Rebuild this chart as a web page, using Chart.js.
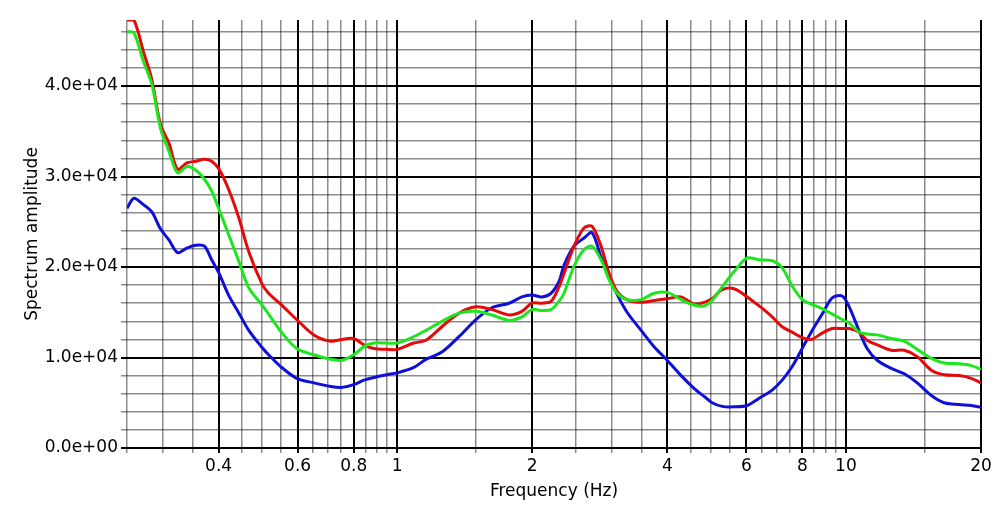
<!DOCTYPE html>
<html>
<head>
<meta charset="utf-8">
<script src="https://cdn.jsdelivr.net/npm/chart.js@4.4.1/dist/chart.umd.min.js"></script>
<style>
  body { margin: 0; background: #fff; }
</style>
</head>
<body>
<canvas id="spectrumChart" width="1002" height="521"></canvas>
<script>
// frequencies (Hz), shared by the three curves
var freqs = [0.25, 0.259, 0.272, 0.284, 0.297, 0.31, 0.324, 0.34, 0.356, 0.372, 0.386, 0.4, 0.421, 0.444, 0.467, 0.5, 0.517, 0.55, 0.597, 0.652,
    0.711, 0.753, 0.8, 0.843, 0.887, 0.949, 1.0, 1.089, 1.159, 1.258, 1.373, 1.498, 1.626, 1.775, 1.897, 1.997, 2.102, 2.202, 2.294, 2.354,
    2.478, 2.608, 2.718, 2.847, 2.966, 3.09, 3.253, 3.496, 3.737, 3.996, 4.293, 4.587, 4.831, 5.033, 5.3, 5.634, 6.025, 6.408, 6.848, 7.21,
    7.59, 7.99, 8.368, 8.855, 9.32, 9.811, 10.17, 10.71, 11.15, 11.74, 12.62, 13.49, 14.42, 15.5, 16.56, 17.89, 19.03, 20];

var redAmp = [47300, 47300, 43800, 40700, 35700, 33700, 30800, 31500, 31700, 31900, 31700, 30900, 28600, 25400, 21700, 18100, 17100, 15900, 14200, 12500,
    11800, 12000, 12100, 11400, 11000, 10900, 10900, 11600, 11900, 13400, 14900, 15600, 15300, 14700, 15100, 16000, 16000, 16200, 17800, 19300,
    22300, 24300, 24500, 22300, 19300, 17300, 16400, 16100, 16300, 16500, 16700, 15900, 16100, 16500, 17500, 17600, 16700, 15700, 14500, 13400,
    12800, 12200, 12000, 12700, 13200, 13200, 13200, 12800, 11900, 11400, 10800, 10800, 10100, 8600, 8100, 8000, 7700, 7200];

var greenAmp = [46000, 45900, 42700, 40200, 35300, 32800, 30400, 31100, 30700, 29700, 28400, 26500, 23600, 20600, 17700, 15800, 14800, 12900, 11000, 10300,
    9800, 9700, 10300, 11200, 11600, 11600, 11600, 12300, 13000, 14000, 14900, 15100, 14700, 14100, 14500, 15300, 15200, 15300, 16200, 17100,
    20100, 21900, 22300, 20800, 18600, 17100, 16400, 16400, 17100, 17200, 16400, 15800, 15700, 16300, 17800, 19500, 21000, 20800, 20700, 19900,
    17900, 16400, 15900, 15400, 14800, 14200, 13800, 12800, 12600, 12500, 12100, 11800, 10900, 9900, 9400, 9300, 9100, 8700];

var blueAmp = [26500, 27600, 26900, 26100, 24200, 23000, 21600, 22100, 22400, 22300, 20800, 19400, 16900, 14900, 13000, 11100, 10300, 9000, 7700, 7200,
    6800, 6700, 7000, 7500, 7800, 8100, 8300, 8900, 9800, 10600, 12300, 14200, 15500, 16000, 16700, 16900, 16700, 17100, 18400, 20200,
    22300, 23200, 23800, 21100, 19000, 17000, 15000, 13000, 11200, 9700, 8000, 6600, 5700, 5000, 4600, 4550, 4700, 5500, 6400, 7500,
    9000, 11000, 12800, 14800, 16600, 16800, 15600, 12900, 11000, 9700, 8800, 8200, 7200, 5800, 5000, 4800, 4700, 4500];

// grid lines on the frequency axis, and the ones that get a label (drawn black)
var xGrid = [0.25, 0.3, 0.35, 0.4, 0.45, 0.5, 0.55, 0.6, 0.65, 0.7, 0.75, 0.8, 0.85, 0.9, 0.95, 1, 1.5, 2, 2.5, 3, 3.5, 4,
    4.5, 5, 5.5, 6, 6.5, 7, 7.5, 8, 8.5, 9, 9.5, 10, 15, 20];
var xLabels = [0.4, 0.6, 0.8, 1, 2, 4, 6, 8, 10, 20];

var yMax = 47300;
var yStep = 2000;
var yLabelStep = 10000;

function isXMajor(v) {
    return xLabels.some(function (m) { return Math.abs(m - v) < 1e-9; });
}

function sci(v) {
    var e = v === 0 ? 0 : Math.floor(Math.log10(v));
    var m = v / Math.pow(10, e);
    return m.toFixed(1) + 'e+' + String(e).padStart(2, '0');
}

function pts(ys) {
    return freqs.map(function (f, i) { return { x: f, y: ys[i] }; });
}

var minorGray = 'rgba(0,0,0,0.45)';
var font = { family: 'DejaVu Sans', size: 17 };
var titleFont = { family: 'DejaVu Sans', size: 17 };

var ctx = document.getElementById('spectrumChart').getContext('2d');
var spectrumChart = new Chart(ctx, {
    type: 'line',
    data: {
        datasets: [{
            label: 'green',
            data: pts(greenAmp),
            borderColor: 'rgb(30,230,30)',
            borderWidth: 3,
            pointRadius: 0,
            tension: 0.3
        }, {
            label: 'red',
            data: pts(redAmp),
            borderColor: 'rgb(228,10,10)',
            borderWidth: 3,
            pointRadius: 0,
            tension: 0.3
        }, {
            label: 'blue',
            data: pts(blueAmp),
            borderColor: 'rgb(15,15,215)',
            borderWidth: 3,
            pointRadius: 0,
            tension: 0.3
        }]
    },
    options: {
        responsive: false,
        animation: false,
        layout: { padding: { top: 20, right: 21, left: 0, bottom: 0 } },
        plugins: { legend: { display: false }, tooltip: { enabled: false } },
        scales: {
            x: {
                type: 'logarithmic',
                min: 0.25,
                max: 20,
                afterBuildTicks: function (scale) {
                    scale.ticks = xGrid.map(function (v) { return { value: v }; });
                },
                afterFit: function (scale) { scale.height = 73; },
                border: { display: false },
                grid: {
                    color: function (c) { return isXMajor(c.tick.value) ? '#000' : minorGray; },
                    lineWidth: function (c) { return isXMajor(c.tick.value) ? 2 : 1.5; },
                    tickLength: 5
                },
                ticks: {
                    autoSkip: false,
                    maxRotation: 0,
                    color: '#000',
                    font: font,
                    padding: 3,
                    callback: function (v) { return isXMajor(v) ? String(v) : ''; }
                },
                title: {
                    display: true,
                    text: 'Frequency (Hz)',
                    color: '#000',
                    font: titleFont,
                    padding: { top: 0, bottom: 19 }
                }
            },
            y: {
                min: 0,
                max: yMax,
                afterBuildTicks: function (scale) {
                    var t = [];
                    for (var v = 0; v <= yMax; v += yStep) t.push({ value: v });
                    scale.ticks = t;
                },
                afterFit: function (scale) { scale.width = 127; },
                border: { display: false },
                grid: {
                    color: function (c) { return c.tick.value % yLabelStep === 0 ? '#000' : minorGray; },
                    lineWidth: function (c) { return c.tick.value % yLabelStep === 0 ? 2 : 1.5; },
                    tickLength: 6
                },
                ticks: {
                    autoSkip: false,
                    color: '#000',
                    font: font,
                    padding: 3,
                    callback: function (v) { return v % yLabelStep === 0 ? sci(v) : ''; }
                },
                title: {
                    display: true,
                    text: 'Spectrum amplitude',
                    color: '#000',
                    font: titleFont,
                    padding: { top: 22, bottom: 0 }
                }
            }
        }
    }
});
</script>
</body>
</html>
